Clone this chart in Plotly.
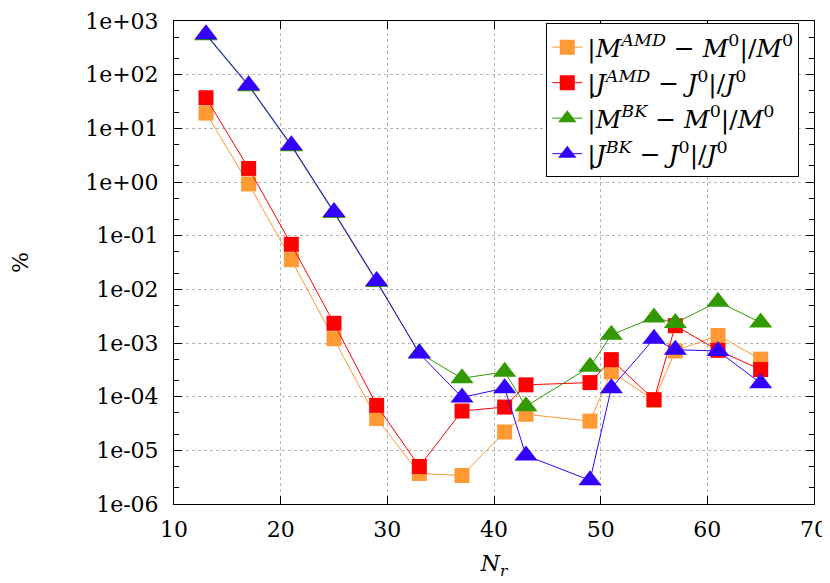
import plotly.graph_objects as go

# N_r samples
nr = [13, 17, 21, 25, 29, 33, 37, 41, 43, 49, 51, 55, 57, 61, 65]

# relative errors in %
m_amd = [19.2, 0.92, 0.0356, 1.2e-3, 3.9e-5, 3.7e-6, 3.4e-6, 2.2e-5, 4.7e-5,
         3.5e-5, 2.9e-4, 8.6e-5, 7.1e-4, 1.38e-3, 5.0e-4]
j_amd = [37.2, 1.79, 0.069, 2.33e-3, 6.9e-5, 5.0e-6, 5.4e-5, 6.4e-5, 1.66e-4,
         1.83e-4, 4.9e-4, 8.8e-5, 2.1e-3, 7.3e-4, 3.2e-4]
m_bk = [545, 61, 4.65, 0.265, 0.0137, 6.5e-4, 2.2e-4, 2.9e-4, 6.6e-5,
        3.6e-4, 1.42e-3, 3.0e-3, 2.36e-3, 5.9e-3, 2.4e-3]
j_bk = [569, 63.7, 4.86, 0.277, 0.0143, 6.35e-4, 9.7e-5, 1.44e-4, 8.0e-6,
        2.76e-6, 1.44e-4, 1.2e-3, 7.5e-4, 7.1e-4, 1.78e-4]

names = [
    "|<i>M</i><sup><i>AMD</i></sup> − <i>M</i><sup>0</sup>|/<i>M</i><sup>0</sup>",
    "|<i>J</i><sup><i>AMD</i></sup> − <i>J</i><sup>0</sup>|/<i>J</i><sup>0</sup>",
    "|<i>M</i><sup><i>BK</i></sup> − <i>M</i><sup>0</sup>|/<i>M</i><sup>0</sup>",
    "|<i>J</i><sup><i>BK</i></sup> − <i>J</i><sup>0</sup>|/<i>J</i><sup>0</sup>",
]

y_tickvals = [1e3, 1e2, 1e1, 1e0, 1e-1, 1e-2, 1e-3, 1e-4, 1e-5, 1e-6]
y_ticktext = ["1e+03", "1e+02", "1e+01", "1e+00", "1e-01", "1e-02",
              "1e-03", "1e-04", "1e-05", "1e-06"]
x_tickvals = [10, 20, 30, 40, 50, 60, 70]

FONT = "DejaVu Serif"

styles = [
    ("#FF9933", "square", 15),
    ("#FF0000", "square", 15),
    ("#339900", "triangle-up", 20),
    ("#3300FF", "triangle-up", 20),
]

fig = go.Figure()
for series, name, (color, symbol, size) in zip([m_amd, j_amd, m_bk, j_bk], names, styles):
    fig.add_trace(go.Scatter(
        x=nr, y=series, name=name, mode="lines+markers",
        line=dict(color=color, width=1),
        marker=dict(color=color, symbol=symbol, size=size, line=dict(width=0)),
    ))

axis_common = dict(
    showline=True, linecolor="black", linewidth=1, mirror="allticks",
    ticks="inside", ticklen=8, tickcolor="black",
    showgrid=True, gridcolor="#b4b4b4", griddash="dot", gridwidth=1,
    zeroline=False, automargin=False, ticklabeloverflow="allow",
    tickfont=dict(family=FONT, size=22, color="black"),
)

fig.update_xaxes(
    range=[10, 70], tickvals=x_tickvals,
    title=dict(text="<i>N</i><sub><i>r</i></sub>", font=dict(family=FONT, size=22, color="black"),
               standoff=14),
    ticklabelstandoff=6,
    **axis_common,
)
fig.update_yaxes(
    type="log", range=[-6, 3], tickvals=y_tickvals, ticktext=y_ticktext,
    title=dict(text="%", font=dict(family=FONT, size=22, color="black"), standoff=62),
    ticklabelstandoff=10,
    minor=dict(ticks="inside", ticklen=5, tickcolor="black", dtick="D2", showgrid=False),
    **axis_common,
)

# page body adds 8px margin, so the figure is sized to fit inside the window
fig.update_layout(
    width=822, height=575,
    margin=dict(l=166, r=16, t=13, b=79),
    plot_bgcolor="white", paper_bgcolor="white",
    font=dict(family=FONT, color="black"),
    legend=dict(
        x=0.977, y=0.995, xanchor="right", yanchor="top",
        bordercolor="black", borderwidth=1, bgcolor="white",
        font=dict(family=FONT, size=25, color="black"),
        tracegroupgap=0,
    ),
)

fig.write_html("out.html")
